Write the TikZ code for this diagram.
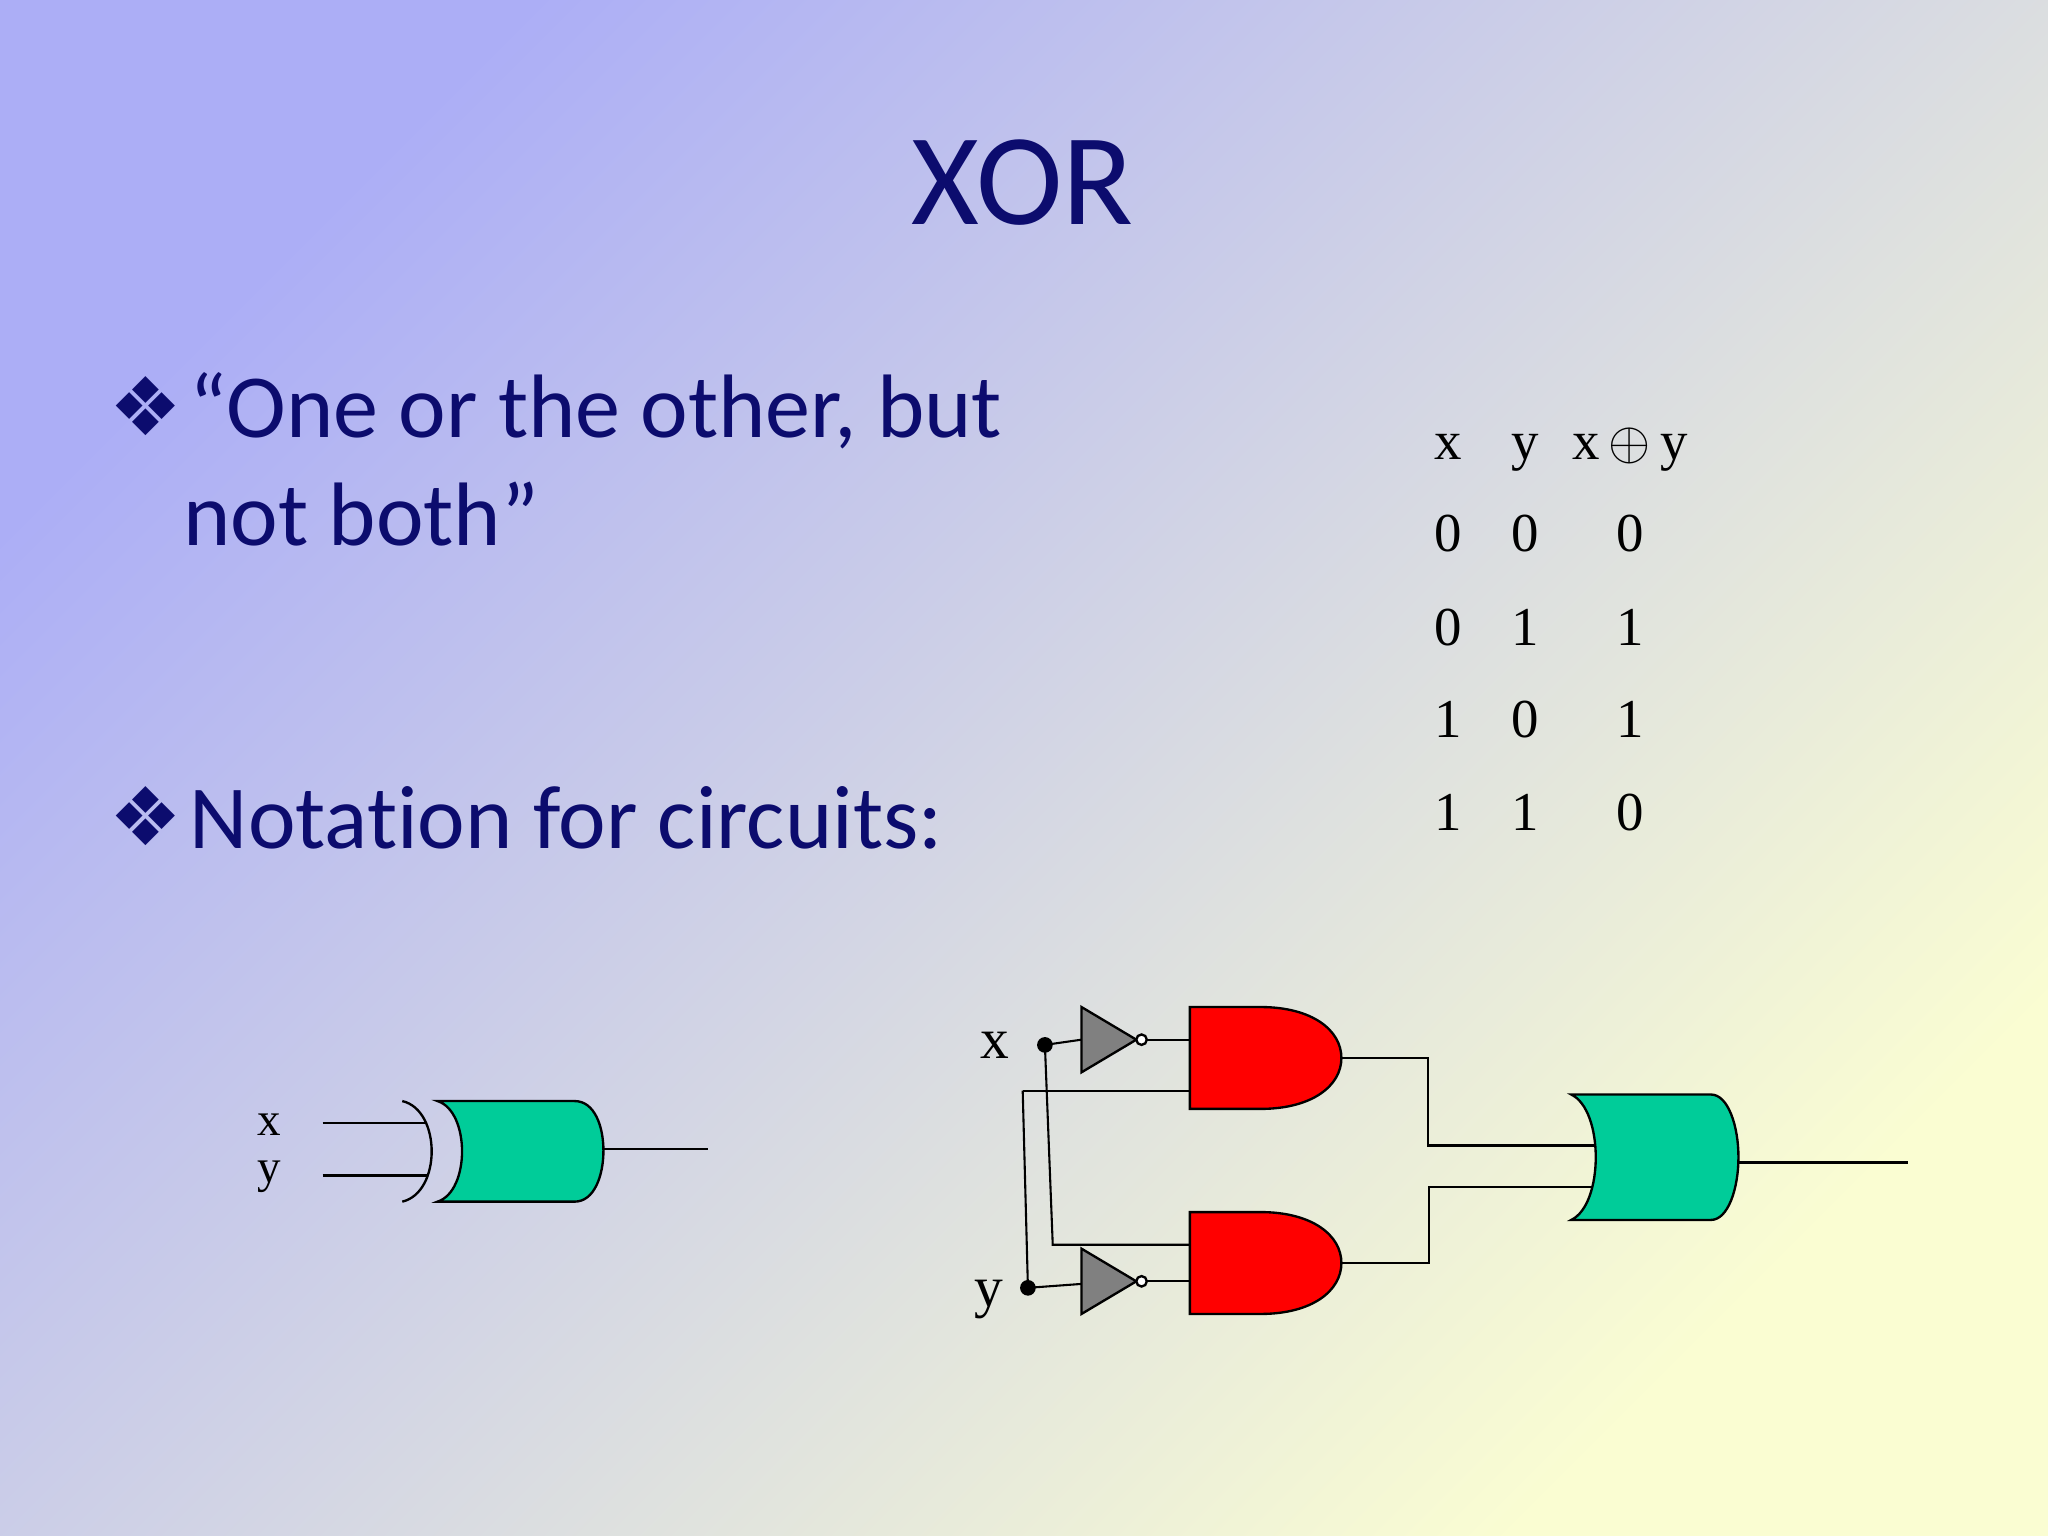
\documentclass[tikz,border=0pt]{standalone}
\usepackage{fontspec}
\setmainfont{Carlito}[Ligatures=NoCommon]
\newfontfamily\seriff{Liberation Serif}
\newfontfamily\djv{DejaVu Sans}
\definecolor{navy}{HTML}{0C0C6E}
\definecolor{gatered}{HTML}{FF0000}
\definecolor{gategreen}{HTML}{00CC99}
\definecolor{bgA}{HTML}{ACAEF6}
\definecolor{bgB}{HTML}{FAFDD2}
\begin{document}
\begin{tikzpicture}[x=0.5pt,y=-0.5pt,
  wire/.style={draw=black,line width=0.8pt},
  gate/.style={draw=black,line width=0.9pt},
  lbl/.style={font=\seriff\fontsize{22}{24}\selectfont,inner sep=0pt},
  tbl/.style={font=\seriff\fontsize{21}{24}\selectfont,inner sep=0pt,anchor=base},
  bul/.style={font=\fontsize{34.5}{40}\selectfont,text=navy,inner sep=0pt,anchor=base west},
  bmark/.style={font=\djv\fontsize{31}{33}\selectfont,text=navy,inner sep=0pt}]
\useasboundingbox (0,0) rectangle (1568,1176);
\shade[shading=axis,top color=bgA,bottom color=bgB,shading angle=45] (0,0) rectangle (1568,1176);
% title
\node[font=\fontsize{50}{56}\selectfont,text=navy] (title) at (783,140) {XOR};
% bullets
\node[bmark] (b1) at (112,311) {❖};
\node[bul] (t1) at (145,335) {“One or the other, but};
\node[bul] (t1b) at (140,418) {not both”};
\node[bmark] (b2) at (112,625) {❖};
\node[bul] (t2) at (145,650) {Notation for circuits:};
% truth table
\foreach \r/\a/\b/\c [count=\i] in {352/x/y/{x\,$\oplus$\,y},422/0/0/0,494/0/1/1,565/1/0/1,636/1/1/0}{
  \node[tbl] (ta\i) at (1109,\r) {\a};
  \node[tbl] (tb\i) at (1168,\r) {\b};
  \node[tbl] (tc\i) at (1248,\r) {\c};
}
% small xor gate
\node[lbl,font=\seriff\fontsize{18}{20}\selectfont] (sx) at (206,861) {x};
\node[lbl,font=\seriff\fontsize{18}{20}\selectfont] (sy) at (206,901) {y};
\draw[wire] (247,860) -- (327,860);
\draw[wire] (247,900) -- (327,900);
\draw[gate] (308,843) .. controls (338,850) and (338,913) .. (308,920);
\draw[gate,fill=gategreen] (335,843) -- (440,843) .. controls (455,843) and (462,862) .. (462,881)
  .. controls (462,900) and (455,920) .. (440,920) -- (335,920)
  .. controls (360,912) and (360,851) .. (335,843) -- cycle;
\draw[wire] (462,880) -- (542,880);
% big circuit
\coordinate (xd) at (800,800);
\coordinate (yd) at (787,986);
\node[lbl] (bx) at (762,800) {x};
\node[lbl] (by) at (757,995) {y};
% wires
\draw[wire] (xd) -- (828,796);
\draw[wire] (xd) -- (806,953) -- (911,953);
\draw[wire] (783,835) -- (911,835);
\draw[wire] (783,835) -- (yd);
\draw[wire] (yd) -- (828,983);
\draw[wire] (878,796) -- (911,796);
\draw[wire] (878,981) -- (911,981);
\draw[wire] (1027,810) -- (1093,810) -- (1093,877) -- (1222,877);
\draw[wire] (1027,967) -- (1094,967) -- (1094,909) -- (1222,909);
\draw[wire] (1331,890) -- (1461,890);
% NOT gates
\foreach \yy/\n in {796/n1,981/n2}{
  \draw[gate,fill=gray] (828,\yy-25) -- (870,\yy) -- (828,\yy+25) -- cycle;
  \draw[gate,fill=white] (874,\yy) circle[radius=4];
}
% AND gates
\foreach \yt in {771,928}{
  \draw[gate,fill=gatered] (911,\yt) -- (965,\yt) .. controls (1005,\yt) and (1027,\yt+18) .. (1027,\yt+39)
   .. controls (1027,\yt+60) and (1005,\yt+78) .. (965,\yt+78) -- (911,\yt+78) -- cycle;
}
% OR gate
\draw[gate,fill=gategreen] (1203,838) -- (1310,838) .. controls (1323,838) and (1331,862) .. (1331,886)
  .. controls (1331,910) and (1323,934) .. (1310,934) -- (1203,934)
  .. controls (1228,922) and (1228,850) .. (1203,838) -- cycle;
% dots
\fill (xd) circle[radius=6];
\fill (yd) circle[radius=6];
\end{tikzpicture}
\end{document}
